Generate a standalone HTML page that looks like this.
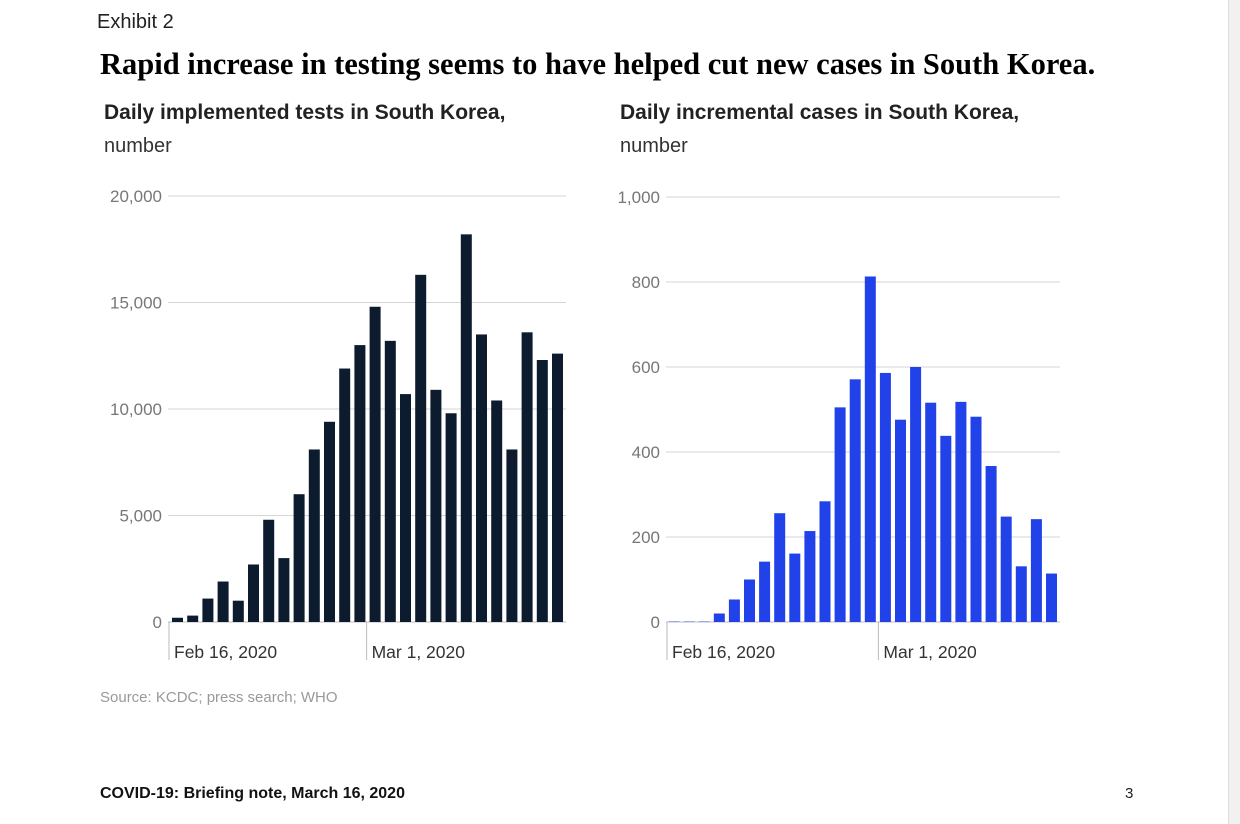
<!DOCTYPE html>
<html><head><meta charset="utf-8"><style>
body{margin:0;background:#fff;font-family:"Liberation Sans",sans-serif}
#wrap{position:relative;width:1240px;height:824px;overflow:hidden;background:#fff}
.t{position:absolute;white-space:nowrap}
</style></head><body>
<div id="wrap">
<div style="position:absolute;left:1228px;top:0;width:12px;height:824px;background:#f1f1f1;border-left:1px solid #ddd"></div>
<div class="t" style="left:97px;top:11px;font-size:20px;color:#222">Exhibit 2</div>
<div class="t" style="left:100px;top:47px;font-family:'Liberation Serif',serif;font-weight:bold;font-size:30.5px;color:#000">Rapid increase in testing seems to have helped cut new cases in South Korea.</div>
<div class="t" style="left:104px;top:101px;font-size:21px;font-weight:bold;color:#222">Daily implemented tests in South Korea,</div>
<div class="t" style="left:104px;top:135px;font-size:20px;color:#333">number</div>
<div class="t" style="left:620px;top:101px;font-size:21px;font-weight:bold;color:#222">Daily incremental cases in South Korea,</div>
<div class="t" style="left:620px;top:135px;font-size:20px;color:#333">number</div>
<svg id="chart" width="1240" height="824" style="position:absolute;left:0;top:0"></svg>
<div class="t" style="left:100px;top:689px;font-size:15px;color:#999">Source: KCDC; press search; WHO</div>
<div class="t" style="left:100px;top:785px;font-size:16px;font-weight:bold;color:#111">COVID-19: Briefing note, March 16, 2020</div>
<div class="t" style="left:1125px;top:785px;font-size:15px;color:#222">3</div>
</div>
<script>
const testValues=[200,300,1100,1900,1000,2700,4800,3000,6000,8100,9400,11900,13000,14800,13200,10700,16300,10900,9800,18200,13500,10400,8100,13600,12300,12600];
const caseValues=[1,1,1,20,53,100,142,256,161,214,284,505,571,813,586,476,600,516,438,518,483,367,248,131,242,114];
const testTicks=[0,5000,10000,15000,20000];
const testTickLabels=["0","5,000","10,000","15,000","20,000"];
const caseTicks=[0,200,400,600,800,1000];
const caseTickLabels=["0","200","400","600","800","1,000"];
const dateLabels=["Feb 16, 2020","Mar 1, 2020"];
const testDateIdx=[0,13];
const caseDateIdx=[0,14];
const svg=document.getElementById('chart');
const NS='http://www.w3.org/2000/svg';
function mk(tag,attrs){const e=document.createElementNS(NS,tag);for(const k in attrs)e.setAttribute(k,attrs[k]);svg.appendChild(e);return e;}
function draw(cfg,prefix){
  const y=v=>cfg.y0-(v/cfg.max)*(cfg.y0-cfg.yTop);
  const x=i=>cfg.x0+i*cfg.step;
  cfg.ticks.forEach((t,i)=>{
    const l=mk('line',{x1:cfg.gx0,x2:cfg.gx1,y1:y(t),y2:y(t),stroke:t===0?'#bbb':'#d6d6d6','stroke-width':1});
    
    
    const tx=mk('text',{x:cfg.gx0-6,y:y(t)+6,'text-anchor':'end','font-size':17,fill:'#777','font-family':'Liberation Sans, sans-serif'});
    tx.textContent=cfg.labels[i];
    
    
  });
  cfg.vals.forEach((v,i)=>{
    const r=mk('rect',{x:x(i),y:y(v),width:cfg.bw,height:Math.max(0,cfg.y0-y(v)),fill:cfg.color});
    
    
  });
  cfg.dates.forEach((d,j)=>{
    const tx0=x(d)-cfg.tickOff;
    const l=mk('line',{x1:tx0,x2:tx0,y1:cfg.y0,y2:cfg.y0+38,stroke:'#bbb','stroke-width':1});
    
    
    const t=mk('text',{x:tx0+5,y:cfg.y0+36,'font-size':17.5,fill:'#333','font-family':'Liberation Sans, sans-serif'});
    t.textContent=dateLabels[j];
    
    
  });
}
draw({y0:622,yTop:196,max:20000,x0:172,step:15.2,bw:11,gx0:168,gx1:566,ticks:testTicks,labels:testTickLabels,vals:testValues,color:'#0c1b2e',tickOff:3,dates:testDateIdx},'tests');
draw({y0:622,yTop:197,max:1000,x0:668.5,step:15.1,bw:11,gx0:666,gx1:1060,ticks:caseTicks,labels:caseTickLabels,vals:caseValues,color:'#2142e8',tickOff:1.5,dates:caseDateIdx},'cases');
</script>
</body></html>
